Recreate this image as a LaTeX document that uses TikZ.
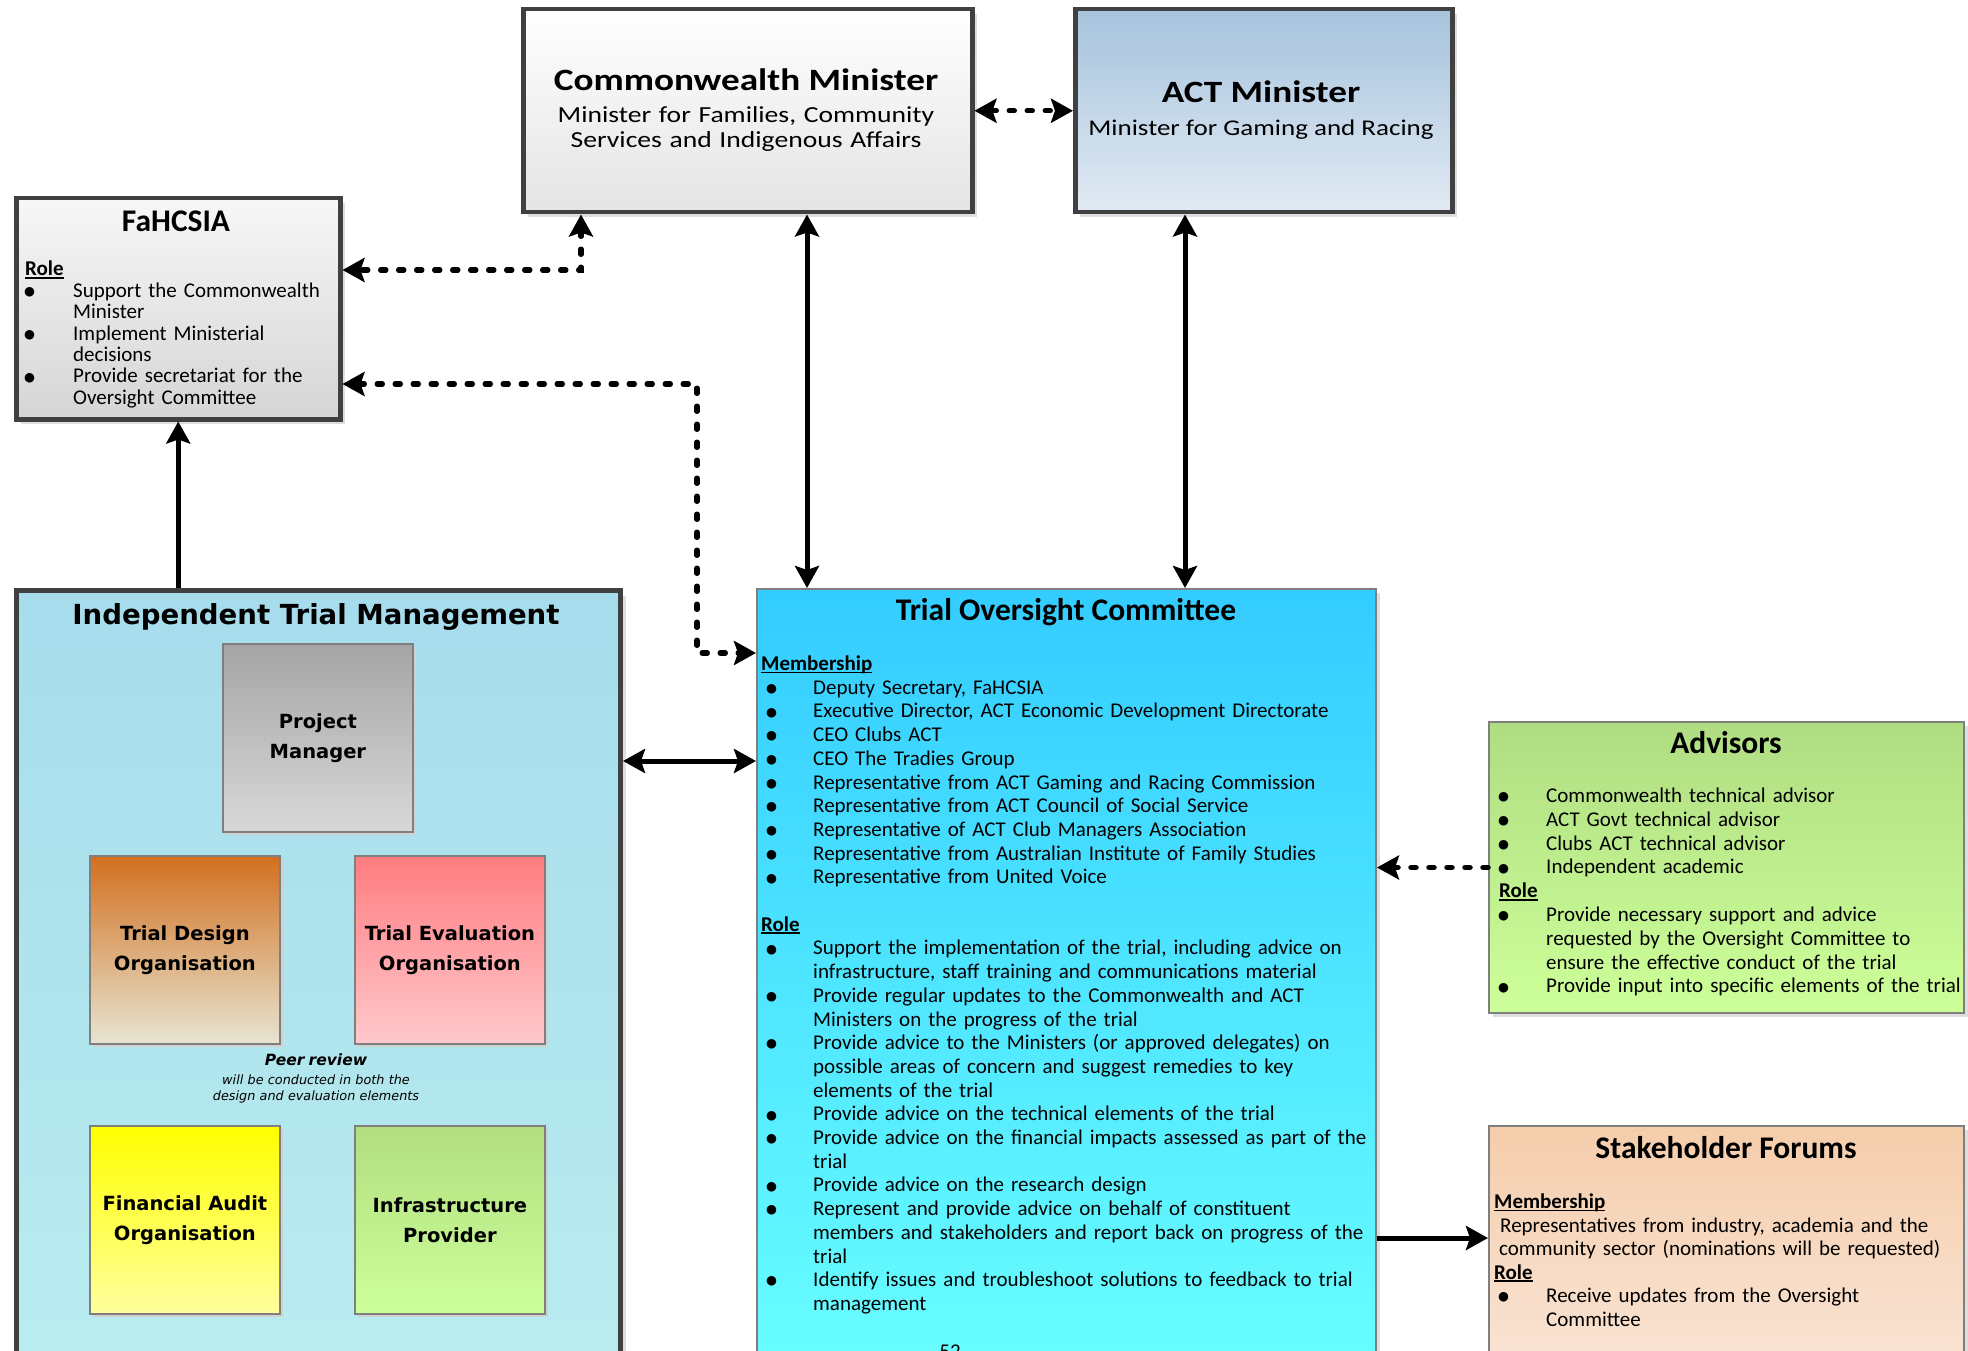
\documentclass[tikz,border=0pt]{standalone}
\usepackage{fontspec}
\setmainfont{Carlito}
\newfontfamily\calS[FakeStretch=1.2]{Carlito}
\newfontfamily\verd{DejaVu Sans}
\usetikzlibrary{arrows.meta,shadows}

\definecolor{bdark}{HTML}{404040}
\definecolor{bmid}{HTML}{7F7F7F}
\definecolor{shad}{HTML}{DEDEDE}
\definecolor{cCmB}{HTML}{E4E4E4}
\definecolor{cActT}{HTML}{A6C3DD}
\definecolor{cActB}{HTML}{E1EAF3}
\definecolor{cFahT}{HTML}{F7F7F7}
\definecolor{cFahB}{HTML}{D5D5D5}
\definecolor{cItmT}{HTML}{A6DCEC}
\definecolor{cItmB}{HTML}{BAEDEF}
\definecolor{cTocT}{HTML}{33CCFF}
\definecolor{cTocB}{HTML}{6AFFFF}
\definecolor{cAdvT}{HTML}{B0DD82}
\definecolor{cAdvB}{HTML}{CCFF99}
\definecolor{cStkT}{HTML}{F5CDAB}
\definecolor{cStkB}{HTML}{FAEADF}
\definecolor{cPmT}{HTML}{A5A5A5}
\definecolor{cPmB}{HTML}{D8D8D8}
\definecolor{cTdT}{HTML}{D2701F}
\definecolor{cTdB}{HTML}{E7E5D2}
\definecolor{cTeT}{HTML}{FF7C80}
\definecolor{cTeB}{HTML}{FFC9CD}
\definecolor{cFaT}{HTML}{FFFF00}
\definecolor{cFaB}{HTML}{FFFF9E}
\definecolor{cIpT}{HTML}{B2DE80}
\definecolor{cIpB}{HTML}{CCFF99}

\newcommand{\myul}[1]{\leavevmode\setbox0=\hbox{#1}\rlap{\rule[-2.8pt]{\wd0}{1.6pt}}\box0}
\newcommand{\mybul}[2]{\leavevmode\hbox to #1{\hspace*{#2}\raisebox{1.8pt}{\verd\fontsize{12.5}{14}\selectfont ●}\hfil}}
\newcommand{\myind}[1]{\leavevmode\hspace*{#1}}

\begin{document}
\begin{tikzpicture}[x=1pt,y=-1pt,
  >={Stealth[length=22pt,width=24pt,inset=4pt]},
  bigbox/.style={draw=bdark, line width=4.5pt, inner sep=0, anchor=north west,
    drop shadow={shadow xshift=5pt, shadow yshift=-5pt, fill=shad, opacity=1}},
  midbox/.style={draw=bmid, line width=2pt, inner sep=0, anchor=north west,
    drop shadow={shadow xshift=4pt, shadow yshift=-4pt, fill=shad, opacity=1}},
  subbox/.style={draw=bmid, line width=1.8pt, inner sep=0, anchor=north west,
    minimum width=190pt, minimum height=188pt, align=center,
    font=\verd\bfseries\fontsize{19.5}{30}\selectfont,
    drop shadow={shadow xshift=3pt, shadow yshift=-3pt, fill=black!18, opacity=1}},
  txt/.style={anchor=base west, align=left, inner sep=0, font=\fontsize{21}{23.7}\selectfont},
  ttl/.style={anchor=base, inner sep=0, font=\bfseries\fontsize{31.5}{36}\selectfont},
  solidc/.style={line width=5pt},
  dashc/.style={line width=5.5pt, line cap=round, dash pattern=on 5pt off 13pt},
]
\useasboundingbox (0,0) rectangle (1968,1351);
\clip (0,0) rectangle (1968,1351);

% boxes
\node[bigbox, minimum width=449pt, minimum height=203pt, top color=white, bottom color=cCmB] (comm) at (521,7) {};
\node[bigbox, minimum width=377pt, minimum height=203pt, top color=cActT, bottom color=cActB] (act) at (1073,7) {};
\node[bigbox, minimum width=324pt, minimum height=221pt, top color=cFahT, bottom color=cFahB] (fah) at (14,196) {};
\node[bigbox, line width=5pt, minimum width=604pt, minimum height=800pt, top color=cItmT, bottom color=cItmB] (itm) at (14,588) {};
\node[midbox, minimum width=619pt, minimum height=800pt, top color=cTocT, bottom color=cTocB] (toc) at (756,588) {};
\node[midbox, minimum width=475pt, minimum height=291pt, top color=cAdvT, bottom color=cAdvB] (adv) at (1488,721) {};
\node[midbox, minimum width=475pt, minimum height=300pt, top color=cStkT, bottom color=cStkB] (stk) at (1488,1125) {};

% inner boxes
\node[subbox, top color=cPmT, bottom color=cPmB] (pm) at (222,643) {Project\\Manager};
\node[subbox, top color=cTdT, bottom color=cTdB] (td) at (89,855) {Trial Design\\Organisation};
\node[subbox, top color=cTeT, bottom color=cTeB] (te) at (354,855) {Trial Evaluation\\Organisation};
\node[subbox, top color=cFaT, bottom color=cFaB] (fa) at (89,1125) {Financial Audit\\Organisation};
\node[subbox, top color=cIpT, bottom color=cIpB] (ip) at (354,1125) {Infrastructure\\Provider};

% titles
\node[ttl, font=\calS\bfseries\fontsize{31}{37}\selectfont] (commT) at (746,91) {Commonwealth Minister};
\node[anchor=base, inner sep=0, text width=440pt, align=center, font=\calS\fontsize{23}{25}\selectfont] (commS) at (746,122.5) {Minister for Families, Community\\Services and Indigenous Affairs};
\node[ttl, font=\calS\bfseries\fontsize{31}{37}\selectfont] (actT) at (1261,103) {ACT Minister};
\node[anchor=base, inner sep=0, font=\calS\fontsize{22.5}{25}\selectfont] (actS) at (1261,135.5) {Minister for Gaming and Racing};
\node[ttl] (fahT) at (176,231.5) {FaHCSIA};
\node[ttl, font=\verd\bfseries\fontsize{27.6}{33}\selectfont] (itmT) at (316,624) {Independent Trial Management};
\node[ttl] (tocT) at (1066,620) {Trial Oversight Committee};
\node[ttl] (advT) at (1726,753) {Advisors};
\node[ttl] (stkT) at (1726,1158) {Stakeholder Forums};

% peer review
\node[anchor=base, inner sep=0, text width=300pt, align=center, font=\verd\itshape\fontsize{12.8}{16.5}\selectfont] (peer) at (316,1065)
  {{\bfseries\fontsize{15.5}{18}\selectfont Peer review}\\[2.5pt]will be conducted in both the\\design and evaluation elements};

% body texts
\node[txt, text width=320pt, font=\fontsize{21}{21.4}\selectfont] (fahB) at (25,276) {\def\xB{\mybul{48pt}{-1pt}}\def\xI{\myind{48pt}}%
\myul{\bfseries Role}\\
\xB Support the Commonwealth\\
\xI Minister\\
\xB Implement Ministerial\\
\xI decisions\\
\xB Provide secretariat for the\\
\xI Oversight Committee};

\node[txt, text width=640pt] (tocB) at (761,670.5) {\def\xB{\mybul{52pt}{5pt}}\def\xI{\myind{52pt}}%
\myul{\bfseries Membership}\\
\xB Deputy Secretary, FaHCSIA\\
\xB Executive Director, ACT Economic Development Directorate\\
\xB CEO Clubs ACT\\
\xB CEO The Tradies Group\\
\xB Representative from ACT Gaming and Racing Commission\\
\xB Representative from ACT Council of Social Service\\
\xB Representative of ACT Club Managers Association\\
\xB Representative from Australian Institute of Family Studies\\
\xB Representative from United Voice\\
\mbox{}\\
\myul{\bfseries Role}\\
\xB Support the implementation of the trial, including advice on\\
\xI infrastructure, staff training and communications material\\
\xB Provide regular updates to the Commonwealth and ACT\\
\xI Ministers on the progress of the trial\\
\xB Provide advice to the Ministers (or approved delegates) on\\
\xI possible areas of concern and suggest remedies to key\\
\xI elements of the trial\\
\xB Provide advice on the technical elements of the trial\\
\xB Provide advice on the financial impacts assessed as part of the\\
\xI trial\\
\xB Provide advice on the research design\\
\xB Represent and provide advice on behalf of constituent\\
\xI members and stakeholders and report back on progress of the\\
\xI trial\\
\xB Identify issues and troubleshoot solutions to feedback to trial\\
\xI management};

\node[anchor=base, inner sep=0, font=\fontsize{21}{24}\selectfont] (pg) at (950,1358) {52};

\node[txt, text width=520pt, font=\fontsize{21}{23.8}\selectfont] (advB) at (1499,802.5) {\def\xB{\mybul{47pt}{-1pt}}\def\xI{\myind{47pt}}%
\xB Commonwealth technical advisor\\
\xB ACT Govt technical advisor\\
\xB Clubs ACT technical advisor\\
\xB Independent academic\\
\myul{\bfseries Role}\\
\xB Provide necessary support and advice\\
\xI requested by the Oversight Committee to\\
\xI ensure the effective conduct of the trial\\
\xB Provide input into specific elements of the trial};

\node[txt, text width=520pt, font=\fontsize{21}{23.5}\selectfont] (stkB) at (1494,1208.5) {\def\xB{\mybul{52pt}{4pt}}\def\xI{\myind{52pt}}%
\myul{\bfseries Membership}\\
\myind{6pt}Representatives from industry, academia and the\\
\myind{5pt}community sector (nominations will be requested)\\
\myul{\bfseries Role}\\
\xB Receive updates from the Oversight\\
\xI Committee};

% connectors
\coordinate (b1) at (581,270);
\coordinate (b2) at (697,384);
\coordinate (b3) at (697,653);
\coordinate (v1) at (807,400);
\coordinate (v2) at (1185,400);
\coordinate (h1) at (700,761);
\coordinate (h2) at (1400,1238);

\draw[dashc,<->] (comm.east) -- (act.west);
\draw[dashc,<->] (comm.south -| b1) -- (b1) -- (fah.east |- b1);
\draw[dashc,<->] (fah.east |- b2) -- (b2) -- (b3) -- (toc.west |- b3);
\draw[solidc,<->] (comm.south -| v1) -- (toc.north -| v1);
\draw[solidc,<->] (act.south -| v2) -- (toc.north -| v2);
\draw[solidc,->] (itm.north -| fah.south) -- (fah.south);
\draw[solidc,<->] (itm.east |- h1) -- (toc.west |- h1);
\draw[dashc,->] (adv.west) -- (toc.east |- adv.west);
\draw[solidc,->] (toc.east |- h2) -- (stk.west |- h2);
\end{tikzpicture}
\end{document}
